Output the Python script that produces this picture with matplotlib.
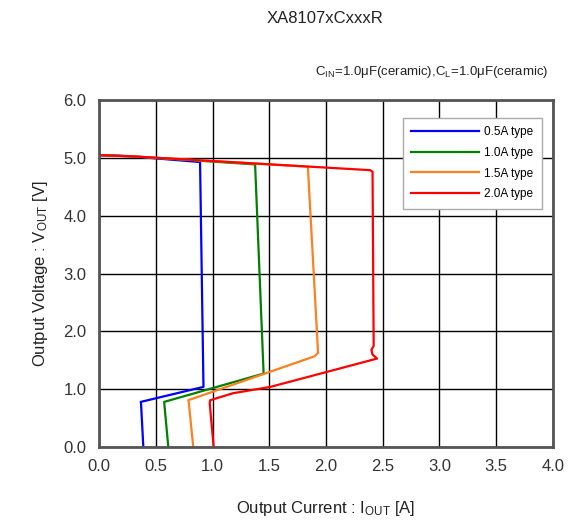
import matplotlib.pyplot as plt

plt.rcParams['font.family'] = ['Liberation Sans', 'DejaVu Sans']
plt.rcParams['mathtext.fontset'] = 'custom'
plt.rcParams['mathtext.rm'] = 'Liberation Sans'

labels = ['0.5A type', '1.0A type', '1.5A type', '2.0A type']
colors = ['#0000ff', '#008000', '#ff7f1e', '#ff0000']

# output current [A] / output voltage [V] traces
i_05 = [0.00, 0.28, 0.89, 0.92, 0.367, 0.37, 0.39]
v_05 = [5.05, 5.03, 4.93, 1.04, 0.78, 0.75, 0.00]
i_10 = [0.00, 0.28, 1.375, 1.45, 0.573, 0.575, 0.61]
v_10 = [5.05, 5.03, 4.89, 1.27, 0.78, 0.75, 0.00]
i_15 = [0.00, 0.28, 1.84, 1.93, 1.90, 0.787, 0.79, 0.83]
v_15 = [5.05, 5.03, 4.85, 1.63, 1.57, 0.81, 0.78, 0.00]
i_20 = [0.00, 0.28, 2.39, 2.41, 2.42, 2.40, 2.41, 2.45, 1.51, 1.18, 0.98, 0.975, 1.01]
v_20 = [5.05, 5.03, 4.79, 4.76, 1.75, 1.68, 1.60, 1.53, 1.04, 0.93, 0.81, 0.76, 0.00]

currents = [i_05, i_10, i_15, i_20]
voltages = [v_05, v_10, v_15, v_20]

fig = plt.figure(figsize=(5.76, 5.22), dpi=100)
ax = fig.add_axes([0.172, 0.1437, 0.788, 0.6643])

for x, y, c, lab in zip(currents, voltages, colors, labels):
    ax.plot(x, y, color=c, lw=1.6, label=lab)

ax.set_xlim(0, 4.0)
ax.set_ylim(0, 6.0)
ax.set_xticks([k * 0.5 for k in range(9)])
ax.set_yticks(range(7))
ax.set_xticklabels([f'{k * 0.5:.1f}' for k in range(9)])
ax.set_yticklabels([f'{k:.1f}' for k in range(7)])
ax.tick_params(length=0, labelsize=12, colors='#333333', pad=9)
ax.grid(True, color='black', lw=1.0)
ax.set_axisbelow(True)
for s in ax.spines.values():
    s.set_color('#555555')
    s.set_linewidth(2.0)

ax.set_xlabel(r'Output Current : $\mathregular{I_{OUT}}$ [A]', fontsize=12,
              color='#222222', labelpad=18)
ax.set_ylabel(r'Output Voltage : $\mathregular{V_{OUT}}$ [V]', fontsize=12,
              color='#222222', labelpad=10)

fig.text(0.565, 0.965, 'XA8107xCxxxR', fontsize=12, ha='center', va='center',
         color='#222222')
fig.text(0.952, 0.862,
         r'$\mathregular{C_{IN}}$=1.0μF(ceramic),$\mathregular{C_{L}}$=1.0μF(ceramic)',
         fontsize=9.5, ha='right', va='center', color='#222222')

leg = ax.legend(loc='upper right', bbox_to_anchor=(0.988, 0.967), fontsize=8.5,
                frameon=True, fancybox=False, handlelength=5.8,
                borderpad=0.7, labelspacing=0.75, handletextpad=0.4)
leg.get_frame().set_edgecolor('#aaaaaa')
leg.get_frame().set_linewidth(1.0)
leg.get_frame().set_alpha(1.0)

fig.savefig('out.png', dpi=100)
